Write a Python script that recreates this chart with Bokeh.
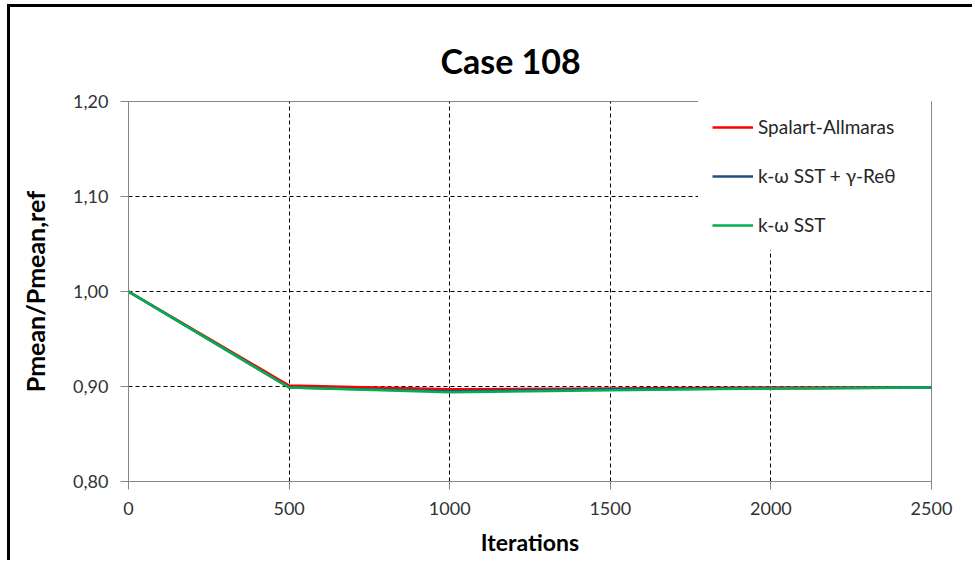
from bokeh.plotting import figure
from bokeh.models import Range1d, FixedTicker, CustomJSTickFormatter, Legend, LegendItem
from bokeh.embed import file_html
from bokeh.resources import INLINE

# ---- data ----
iterations = [0, 500, 1000, 1500, 2000, 2500]
spalart_allmaras = [1.000, 0.901, 0.897, 0.898, 0.899, 0.899]
sst_gamma_re = [1.000, 0.899, 0.895, 0.897, 0.898, 0.899]
sst = [1.000, 0.899, 0.894, 0.896, 0.898, 0.899]

series_names = ["Spalart-Allmaras", "k-ω SST + γ-Reθ", "k-ω SST"]
series_colors = ["#FF0000", "#1F4E8C", "#00B050"]

x_ticks = [0, 500, 1000, 1500, 2000, 2500]
y_ticks = [0.80, 0.90, 1.00, 1.10, 1.20]
x_grid_ticks = [500, 1000, 1500, 2000]
y_grid_ticks = [0.90, 1.00, 1.10]

FONT = "Lato"

p = figure(
    width=965, height=556,
    output_backend="svg", toolbar_location=None,
    x_range=Range1d(0, 2500), y_range=Range1d(0.8, 1.2),
    min_border_left=118, min_border_right=44,
    min_border_top=94, min_border_bottom=82,
)
p.styles = {"border-top": "3px solid black", "border-left": "3px solid black",
            "margin-left": "7px", "margin-top": "4px"}

p.title.text = "Case 108"
p.title.text_font = FONT
p.title.text_font_size = "34px"
p.title.text_font_style = "bold"
p.title.text_color = "black"
p.title.align = "left"
p.title.offset = 312
p.title.standoff = 41

p.outline_line_color = "#868686"
p.outline_line_width = 1
p.background_fill_color = "white"
p.border_fill_color = "white"

# axes
for ax in (p.xaxis[0], p.yaxis[0]):
    ax.axis_line_color = "#868686"
    ax.major_tick_line_color = "#868686"
    ax.major_tick_out = 8
    ax.major_tick_in = 0
    ax.minor_tick_line_color = None
    ax.major_label_text_font = FONT
    ax.major_label_text_font_size = "18px"
    ax.major_label_text_color = "#333333"
    ax.axis_label_text_font = FONT
    ax.axis_label_text_font_style = "bold"
    ax.axis_label_text_color = "black"

p.xaxis[0].axis_label_text_font_size = "23px"
p.yaxis[0].axis_label_text_font_size = "25px"
p.xaxis[0].ticker = FixedTicker(ticks=x_ticks)
p.yaxis[0].ticker = FixedTicker(ticks=y_ticks)
p.yaxis[0].formatter = CustomJSTickFormatter(code="return tick.toFixed(2).replace('.', ',');")
p.xaxis[0].axis_label = "Iterations"
p.yaxis[0].axis_label = "Pmean/Pmean,ref"
p.xaxis[0].major_label_standoff = 12
p.yaxis[0].major_label_standoff = 12
p.xaxis[0].axis_label_standoff = 10
p.yaxis[0].axis_label_standoff = 20

# grids
p.xgrid.ticker = FixedTicker(ticks=x_grid_ticks)
p.ygrid.ticker = FixedTicker(ticks=y_grid_ticks)
for g in (p.xgrid[0], p.ygrid[0]):
    g.grid_line_color = "#000000"
    g.grid_line_dash = "4 3"
    g.grid_line_width = 1

# lines
items = []
for name, ys, col in zip(series_names, [spalart_allmaras, sst_gamma_re, sst], series_colors):
    r = p.line(iterations, ys, line_color=col, line_width=2.5)
    items.append(LegendItem(label=name, renderers=[r]))

legend = Legend(
    items=items, location="top_right", margin=0, padding=14, spacing=26,
    glyph_width=41, glyph_height=20, label_height=20, label_width=159,
    label_standoff=5, border_line_alpha=0, background_fill_color="white",
    background_fill_alpha=1.0,
    label_text_font=FONT, label_text_font_size="19px", label_text_color="#262626",
)
p.add_layout(legend)

open("out.html", "w").write(file_html(p, INLINE))
